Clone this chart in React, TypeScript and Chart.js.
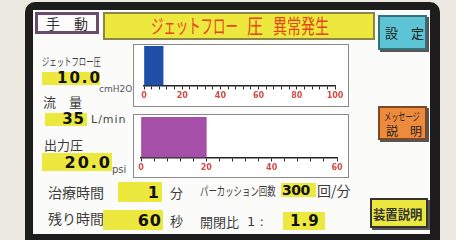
import React, { useEffect, useRef } from 'react';
import { Chart, registerables } from 'chart.js';

Chart.register(...registerables);

// ---- data ----
const jetCategories = ['ジェットフロー圧'];
const jetValues = [10];
const jetMin = 0;
const jetMax = 100;
const jetTickStep = 4;
const jetLabelStep = 20;

const outCategories = ['出力圧'];
const outValues = [20];
const outMin = 0;
const outMax = 60;
const outTickStep = 4;
const outLabelStep = 20;

const JP = '"Noto Sans CJK JP", "Noto Sans", sans-serif';
const NUM = '"DejaVu Sans", "Noto Sans", sans-serif';
const YEL = '#ece83e';

type GaugeProps = {
  labels: string[];
  values: number[];
  min: number;
  max: number;
  step: number;
  labelStep: number;
  color: string;
  width: number;
  height: number;
  pad: { left: number; right: number; top: number; bottom: number };
};

function Gauge(p: GaugeProps) {
  const ref = useRef<HTMLCanvasElement>(null);
  useEffect(() => {
    if (!ref.current) return;
    const chart = new Chart(ref.current, {
      type: 'bar',
      data: {
        labels: p.labels,
        datasets: [
          {
            data: p.values,
            backgroundColor: p.color,
            borderWidth: 0,
            barPercentage: 1,
            categoryPercentage: 1,
          },
        ],
      },
      options: {
        indexAxis: 'y',
        animation: false,
        responsive: false,
        devicePixelRatio: 1,
        layout: { padding: p.pad },
        plugins: { legend: { display: false }, tooltip: { enabled: false } },
        scales: {
          y: { display: false },
          x: {
            min: p.min,
            max: p.max,
            border: { display: true, color: '#222', width: 1.5 },
            grid: {
              drawOnChartArea: false,
              drawTicks: true,
              tickLength: 4,
              color: '#222',
              lineWidth: 1,
            },
            ticks: {
              stepSize: p.step,
              autoSkip: false,
              maxRotation: 0,
              padding: 2,
              color: '#d44a44',
              font: { family: NUM, size: 8, weight: 'bold' },
              callback: (v: any) => (Number(v) % p.labelStep === 0 ? String(v) : ''),
            },
          },
        },
      },
    });
    return () => chart.destroy();
  }, []);
  return <canvas ref={ref} width={p.width} height={p.height} style={{ position: 'absolute', left: 0, top: 0, width: p.width, height: p.height }} />;
}

type TP = {
  x: number;
  y: number;
  size: number;
  children: React.ReactNode;
  color?: string;
  weight?: number;
  family?: string;
  sx?: number;
  ls?: number;
  right?: boolean;
};

function T({ x, y, size, children, color = '#3b3b3b', weight = 400, family = JP, sx = 1, ls = 0, right = false }: TP) {
  const lh = Math.round(size * 1.3);
  const style: React.CSSProperties = {
    position: 'absolute',
    top: y - lh / 2,
    lineHeight: `${lh}px`,
    fontSize: size,
    fontFamily: family,
    fontWeight: weight,
    color,
    whiteSpace: 'nowrap',
    letterSpacing: ls,
    transform: `scaleX(${sx})`,
    transformOrigin: right ? 'right center' : 'left center',
  };
  if (right) style.right = 456 - x;
  else style.left = x;
  return <div style={style}>{children}</div>;
}

function Box({ x, y, w, h, bg, border, shadow }: { x: number; y: number; w: number; h: number; bg: string; border?: string; shadow?: string }) {
  return (
    <div
      style={{
        position: 'absolute',
        left: x,
        top: y,
        width: w,
        height: h,
        boxSizing: 'border-box',
        background: bg,
        border: border || 'none',
        boxShadow: shadow || 'none',
      }}
    />
  );
}

export default function App() {
  return (
    <div style={{ position: 'fixed', left: 0, top: 0, width: 456, height: 240, overflow: 'hidden', background: '#ece9e1' }}>
      {/* device frame */}
      <div style={{ position: 'absolute', left: 25, top: 2, width: 415, height: 260, borderRadius: 10, background: '#1d1d1d' }} />
      <div style={{ position: 'absolute', left: 33, top: 10, width: 397, height: 224, background: '#fbfbfa' }} />

      {/* mode box */}
      <Box x={35} y={12} w={64} h={22} bg="#fdfdfd" border="3px solid #6b4a70" />
      <T x={46} y={23} size={14} color="#333">手　動</T>

      {/* title */}
      <Box x={103} y={12} w={272} h={28} bg={YEL} border="2px solid #8c8746" />
      <T x={151} y={26} size={20} color="#e5461d" sx={0.62}>ジェットフロー</T>
      <T x={247} y={26} size={20} color="#e5461d" sx={0.8}>圧</T>
      <T x={273} y={26} size={20} color="#e5461d" sx={0.7}>異常発生</T>

      {/* side buttons */}
      <Box x={378} y={15} w={49} h={35} bg="#5cc4d4" border="2px solid #3b6f78" shadow="2px 2px 0 #555" />
      <T x={385} y={32} size={13} color="#222">設　定</T>
      <Box x={378} y={106} w={49} h={34} bg="#ee8a3c" border="2px solid #7a4a28" shadow="2px 2px 0 #555" />
      <T x={384} y={116} size={11} color="#222" sx={0.65}>メッセージ</T>
      <T x={386} y={131} size={12} color="#222">説　明</T>
      <Box x={370} y={198} w={58} h={30} bg={YEL} border="2px solid #333" shadow="2px 2px 0 #555" />
      <T x={373} y={213} size={13} color="#333" weight={700} sx={0.95}>装置説明</T>

      {/* chart 1 */}
      <div style={{ position: 'absolute', left: 133, top: 44, width: 216, height: 63, boxSizing: 'border-box', border: '1.5px solid #8a8a8a', background: '#fff' }}>
        <Gauge
          labels={jetCategories}
          values={jetValues}
          min={jetMin}
          max={jetMax}
          step={jetTickStep}
          labelStep={jetLabelStep}
          color="#1f4fa6"
          width={213}
          height={60}
          pad={{ left: 10, right: 12, top: 1, bottom: 2 }}
        />
      </div>

      {/* chart 2 */}
      <div style={{ position: 'absolute', left: 133, top: 114, width: 216, height: 64, boxSizing: 'border-box', border: '1.5px solid #8a8a8a', background: '#fff' }}>
        <Gauge
          labels={outCategories}
          values={outValues}
          min={outMin}
          max={outMax}
          step={outTickStep}
          labelStep={outLabelStep}
          color="#a64fa8"
          width={213}
          height={61}
          pad={{ left: 7, right: 10, top: 2, bottom: 1 }}
        />
      </div>

      {/* left readouts */}
      <T x={42} y={61} size={11} sx={0.67}>ジェットフロー圧</T>
      <Box x={42} y={72} w={58} h={13} bg={YEL} />
      <T x={102} y={78} size={15} weight={700} family={NUM} color="#111" ls={2} right>10.0</T>
      <T x={99} y={89} size={9} family={NUM} color="#555">cmH2O</T>

      <T x={43} y={101} size={13}>流　量</T>
      <Box x={45} y={113} w={42} h={13} bg={YEL} />
      <T x={85} y={119} size={15} weight={700} family={NUM} color="#111" ls={1} right>35</T>
      <T x={91} y={120} size={11} family={NUM} color="#444" ls={1}>L/min</T>

      <T x={44} y={144} size={13}>出力圧</T>
      <Box x={42} y={153} w={70} h={18} bg={YEL} />
      <T x={112} y={162} size={16} weight={700} family={NUM} color="#111" ls={2} right>20.0</T>
      <T x={112} y={169} size={10} family={NUM} color="#555">psi</T>

      {/* bottom rows */}
      <T x={48} y={192} size={14}>治療時間</T>
      <Box x={118} y={182} w={44} h={20} bg={YEL} />
      <T x={159} y={192} size={16} weight={700} family={NUM} color="#111" right>1</T>
      <T x={170} y={192} size={13}>分</T>
      <T x={200} y={191} size={12} sx={0.7}>パーカッション回数</T>
      <Box x={281} y={183} w={35} h={14} bg={YEL} />
      <T x={282} y={190} size={14} weight={700} family={NUM} color="#111" ls={-0.5}>300</T>
      <T x={317} y={190} size={14}>回/分</T>

      <T x={48} y={218} size={14}>残り時間</T>
      <Box x={103} y={210} w={60} h={20} bg={YEL} />
      <T x={162} y={220} size={16} weight={700} family={NUM} color="#111" ls={1} right>60</T>
      <T x={170} y={220} size={13}>秒</T>
      <T x={200} y={221} size={13}>開閉比</T>
      <T x={247} y={221} size={13} family={NUM}>1 :</T>
      <Box x={283} y={212} w={42} h={18} bg={YEL} />
      <T x={290} y={221} size={15} weight={700} family={NUM} color="#111" ls={1}>1.9</T>
    </div>
  );
}
